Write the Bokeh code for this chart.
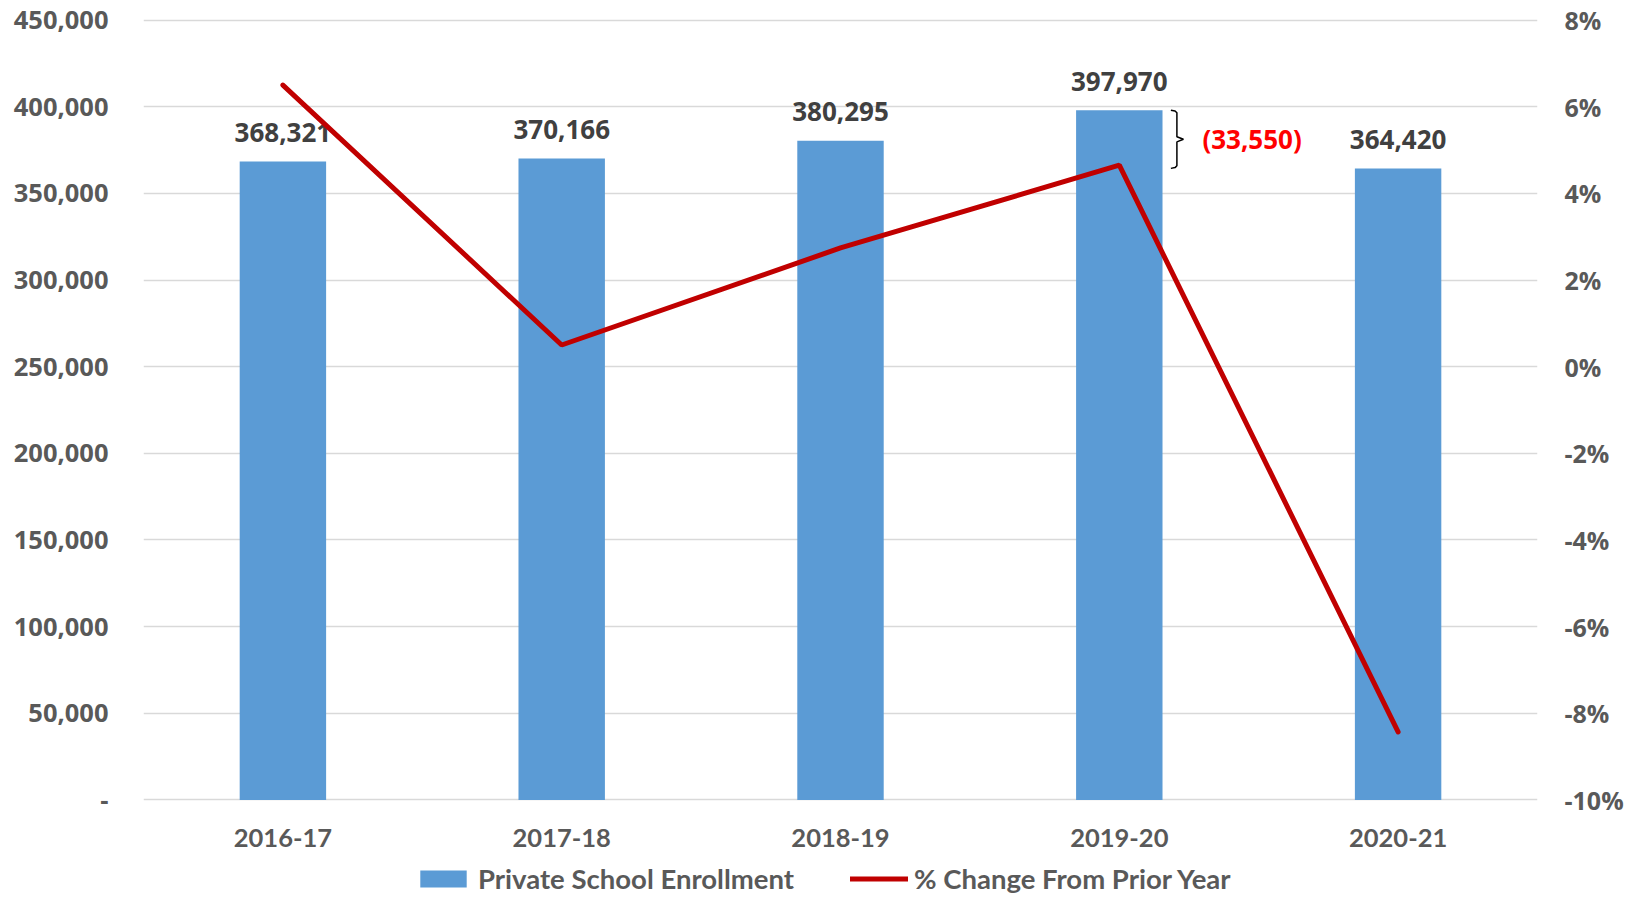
from bokeh.plotting import figure
from bokeh.layouts import column
from bokeh.models import (Range1d, LinearAxis, FixedTicker, NumeralTickFormatter,
                          Legend, LegendItem, ColumnDataSource, FactorRange)
from bokeh.core.properties import value
from bokeh.embed import file_html
from bokeh.resources import INLINE

# ---- data ----
years = ["2016-17", "2017-18", "2018-19", "2019-20", "2020-21"]
enrollment = [368321, 370166, 380295, 397970, 364420]
pct_change = [0.065, 0.005, 0.0274, 0.0465, -0.0843]
left_ticks = [0, 50000, 100000, 150000, 200000, 250000, 300000, 350000, 400000, 450000]
right_ticks = [-0.10, -0.08, -0.06, -0.04, -0.02, 0.0, 0.02, 0.04, 0.06, 0.08]
bar_label = "Private School Enrollment"
line_label = "% Change From Prior Year"

BLUE = "#5B9BD5"
RED = "#C00000"
TICK = "#595959"
LBL = "#404040"
GRID = "#D9D9D9"

src = ColumnDataSource(dict(
    year=years,
    enroll=enrollment,
    pct=pct_change,
    label=[f"{v:,}" for v in enrollment],
))

# small padding so the 0 and 450,000 gridlines are fully visible
L0, L1 = left_ticks[0], left_ticks[-1]
R0, R1 = right_ticks[0], right_ticks[-1]
pad = 0.002 * (L1 - L0)
ylo, yhi = L0 - pad, L1 + pad
def to_right(v):
    return R0 + (v - L0) / (L1 - L0) * (R1 - R0)

xr = FactorRange(*years)
p = figure(x_range=xr, y_range=Range1d(ylo, yhi),
           width=1626, height=859,
           output_backend="svg", toolbar_location=None,
           min_border_left=143, min_border_right=87, min_border_top=18,
           min_border_bottom=58)
p.outline_line_color = None
p.background_fill_color = "white"
p.border_fill_color = "white"

p.extra_y_ranges = {"pct": Range1d(to_right(ylo), to_right(yhi))}

# grid
p.xgrid.visible = False
p.ygrid.ticker = FixedTicker(ticks=left_ticks)
p.ygrid.grid_line_color = GRID
p.ygrid.grid_line_width = 1.5

# left axis
ya = p.yaxis[0]
ya.ticker = FixedTicker(ticks=left_ticks)
ya.formatter = NumeralTickFormatter(format="0,0")
ya.major_label_overrides = {0: "-"}

ra = LinearAxis(y_range_name="pct", ticker=FixedTicker(ticks=right_ticks),
                formatter=NumeralTickFormatter(format="0%"))
p.add_layout(ra, "right")

for ax in [ya, ra]:
    ax.axis_line_color = None
    ax.major_tick_line_color = None
    ax.minor_tick_line_color = None
    ax.major_tick_out = 0
    ax.major_tick_in = 0
    ax.major_label_text_font = "Open Sans"
    ax.major_label_text_font_style = "bold"
    ax.major_label_text_color = TICK
ya.major_label_text_font_size = "25.5px"
ra.major_label_text_font_size = "25px"
ya.major_label_standoff = 35
ra.major_label_standoff = 27

xa = p.xaxis[0]
xa.axis_line_color = None
xa.major_tick_line_color = None
xa.minor_tick_line_color = None
xa.major_tick_out = 0
xa.major_tick_in = 0
xa.major_label_text_font = "Lato"
xa.major_label_text_font_style = "bold"
xa.major_label_text_font_size = "25.5px"
xa.major_label_text_color = TICK
xa.major_label_standoff = 27

# bars
bars = p.vbar(x="year", top="enroll", width=0.31, source=src,
              fill_color=BLUE, line_color=None)

# value labels
p.text(x="year", y="enroll", text="label", source=src,
       text_align="center", text_baseline="middle", y_offset=-29,
       text_font=value("Open Sans"), text_font_style="bold",
       text_font_size="26px", text_color=LBL)

# line
line = p.line(x="year", y="pct", source=src, y_range_name="pct",
              line_color=RED, line_width=5, line_cap="round")

# brace annotation between 2019-20 and 2020-21 tops
i = years.index("2019-20")
cx = i + 0.5
top = enrollment[i]
bot = enrollment[i + 1]
mid = (top + bot) / 2
s = 1500
bx = [cx + 0.185, cx + 0.200, cx + 0.2066, cx + 0.2066, cx + 0.230,
      cx + 0.2066, cx + 0.2066, cx + 0.200, cx + 0.185]
by = [top, top - s * 0.3, top - s, mid + s, mid, mid - s, bot + s, bot + s * 0.3, bot]
p.line(x=bx, y=by, line_color="black", line_width=1.5)

drop = enrollment[i + 1] - enrollment[i]
drop_text = f"({abs(drop):,})" if drop < 0 else f"{drop:,}"
p.text(x=[cx + 0.298], y=[mid], text=[drop_text], text_align="left",
       text_baseline="middle", text_font=value("Open Sans"),
       text_font_style="bold", text_font_size="26px", text_color="#FF0000")

# ---- legend strip (same data, kept outside its visible range) ----
lf = figure(width=1626, height=36, x_range=xr, y_range=Range1d(2 * L1, 3 * L1),
            output_backend="svg", toolbar_location=None,
            x_axis_type=None, y_axis_type=None,
            min_border_left=0, min_border_right=0, min_border_top=0,
            min_border_bottom=0)
lf.outline_line_color = None
lf.background_fill_color = "white"
lf.border_fill_color = "white"
lf.grid.visible = False
lbar = lf.vbar(x="year", top="enroll", width=0.31, source=src,
               fill_color=BLUE, line_color=None)
lline = lf.line(x="year", y="pct", source=src, line_color=RED, line_width=5,
                line_cap="round")

legend = Legend(items=[LegendItem(label=bar_label, renderers=[lbar]),
                       LegendItem(label=line_label, renderers=[lline])],
                orientation="horizontal", location=(271, 0),
                label_text_font="Lato", label_text_font_style="bold",
                label_text_font_size="27.5px", label_text_color=TICK,
                glyph_width=58, glyph_height=21, spacing=56, label_standoff=6,
                border_line_color=None, background_fill_alpha=0,
                padding=0, margin=0)
lf.add_layout(legend, "center")

layout = column(p, lf, spacing=0)
open("out.html", "w").write(file_html(layout, INLINE))
